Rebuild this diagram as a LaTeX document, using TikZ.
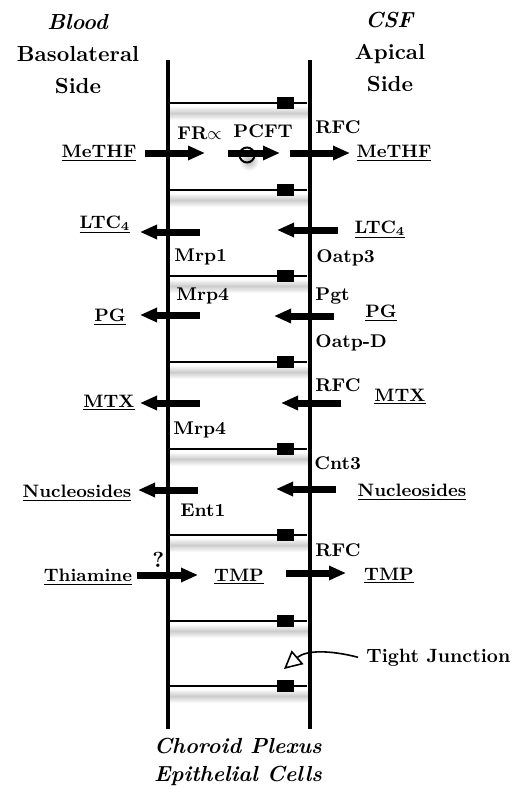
\documentclass[tikz,border=0pt]{standalone}
\usetikzlibrary{arrows.meta,positioning}
\begin{document}
\begin{tikzpicture}[
    x=0.5pt, y=-0.5pt,
    membrane/.style={
        line width=1.7pt
    },
    junction/.style={
        line width=1.2pt
    },
    pump/.style={
        line width=3.5pt,
        -{Triangle[length=8.5pt,width=6.8pt]}
    },
    substrate/.style={
        font=\fontsize{9}{11}\selectfont\bfseries,
        inner sep=0pt,
        anchor=base
    },
    carrier/.style={
        font=\fontsize{9.2}{11}\selectfont\bfseries,
        inner sep=0pt,
        anchor=base west
    },
    side/.style={
        font=\fontsize{10.9}{16}\selectfont\bfseries,
        align=center,
        inner sep=0pt,
        anchor=north
    }
]
\useasboundingbox (0,0) rectangle (515,789);

% tight junctions between the cells
\foreach \y in {103,190,276,362,449,535,621,686} {
    \shade[top color=white, bottom color=white, middle color=gray!40]
        (170,\y+3) rectangle (308,\y+17);
    \draw[junction] (168,\y) -- (307,\y);
    \fill (277,\y-6) rectangle (294,\y+6);
}

% membranes
\draw[membrane] (168,60) -- (168,729);
\draw[membrane] (310,60) -- (310,729);

% sides
\node[side] (blood) at (78,14)
{\textit{Blood}\\Basolateral\\Side};
\node[side] (csf) at (390,12)
{\textit{CSF}\\Apical\\Side};
\node[side, font=\fontsize{10.9}{14}\selectfont\bfseries\itshape] (cells) at (238,738)
{Choroid Plexus\\Epithelial Cells};

% substrates
\node[substrate] (methfL) at (99,157) {\underline{MeTHF}};
\node[substrate] (methfR) at (394,157) {\underline{MeTHF}};
\node[substrate] (ltcL) at (105,228) {\underline{LTC\textsubscript{4}}};
\node[substrate] (ltcR) at (380,233) {\underline{LTC\textsubscript{4}}};
\node[substrate] (pgL) at (110,321) {\underline{PG}};
\node[substrate] (pgR) at (381,317) {\underline{PG}};
\node[substrate] (mtxL) at (109,407) {\underline{MTX}};
\node[substrate] (mtxR) at (400,401) {\underline{MTX}};
\node[substrate] (nucL) at (77,497) {\underline{Nucleosides}};
\node[substrate] (nucR) at (412,496) {\underline{Nucleosides}};
\node[substrate] (thia) at (88,581) {\underline{Thiamine}};
\node[substrate] (tmpM) at (239,581) {\underline{TMP}};
\node[substrate] (tmpR) at (389,580) {\underline{TMP}};

% carriers
\node[carrier] (fra) at (177,139) {FR$\propto$};
\node[carrier] (pcft) at (233,137) {PCFT};
\node[carrier] (rfcA) at (315,133) {RFC};
\node[carrier] (mrpA) at (174,261) {Mrp1};
\node[carrier] (oatpA) at (316,262) {Oatp3};
\node[carrier] (mrpB) at (176,300) {Mrp4};
\node[carrier] (pgt) at (315,300) {Pgt};
\node[carrier] (oatpB) at (315,347) {Oatp-D};
\node[carrier] (rfcB) at (315,391) {RFC};
\node[carrier] (mrpC) at (173,434) {Mrp4};
\node[carrier] (cnt) at (314,469) {Cnt3};
\node[carrier] (ent) at (180,516) {Ent1};
\node[carrier] (rfcC) at (315,556) {RFC};
\node[carrier, font=\fontsize{10.9}{13}\selectfont\bfseries] (unknown) at (152,567) {?};

% transport
\shade[inner color=gray!60, outer color=white] (249,161) circle (10);
\draw[pump] (145,153) -- (205,153);
\draw[pump] (228,153) -- (280,153);
\draw[line width=1pt] (247,155) circle (7.5);
\draw[pump] (290,153) -- (350,153);

\draw[pump] (200,232) -- (140,232);
\draw[pump] (338,230) -- (277,230);
\draw[pump] (200,315) -- (140,315);
\draw[pump] (334,316) -- (274,316);
\draw[pump] (200,403) -- (140,403);
\draw[pump] (341,403) -- (281,403);
\draw[pump] (198,490) -- (138,490);
\draw[pump] (336,489) -- (276,489);
\draw[pump] (137,575) -- (198,575);
\draw[pump] (286,573) -- (346,573);

% tight junction label
\node[carrier, font=\fontsize{9.6}{12}\selectfont\bfseries] (tj) at (366,662) {Tight Junction};
\coordinate (tjtip) at (284,669);
\draw[line width=0.8pt, -{Triangle[open,length=9pt,width=9pt]}]
    ([xshift=-4pt]tj.west) .. controls (330,650) and (306,650) .. (tjtip);

\end{tikzpicture}
\end{document}
